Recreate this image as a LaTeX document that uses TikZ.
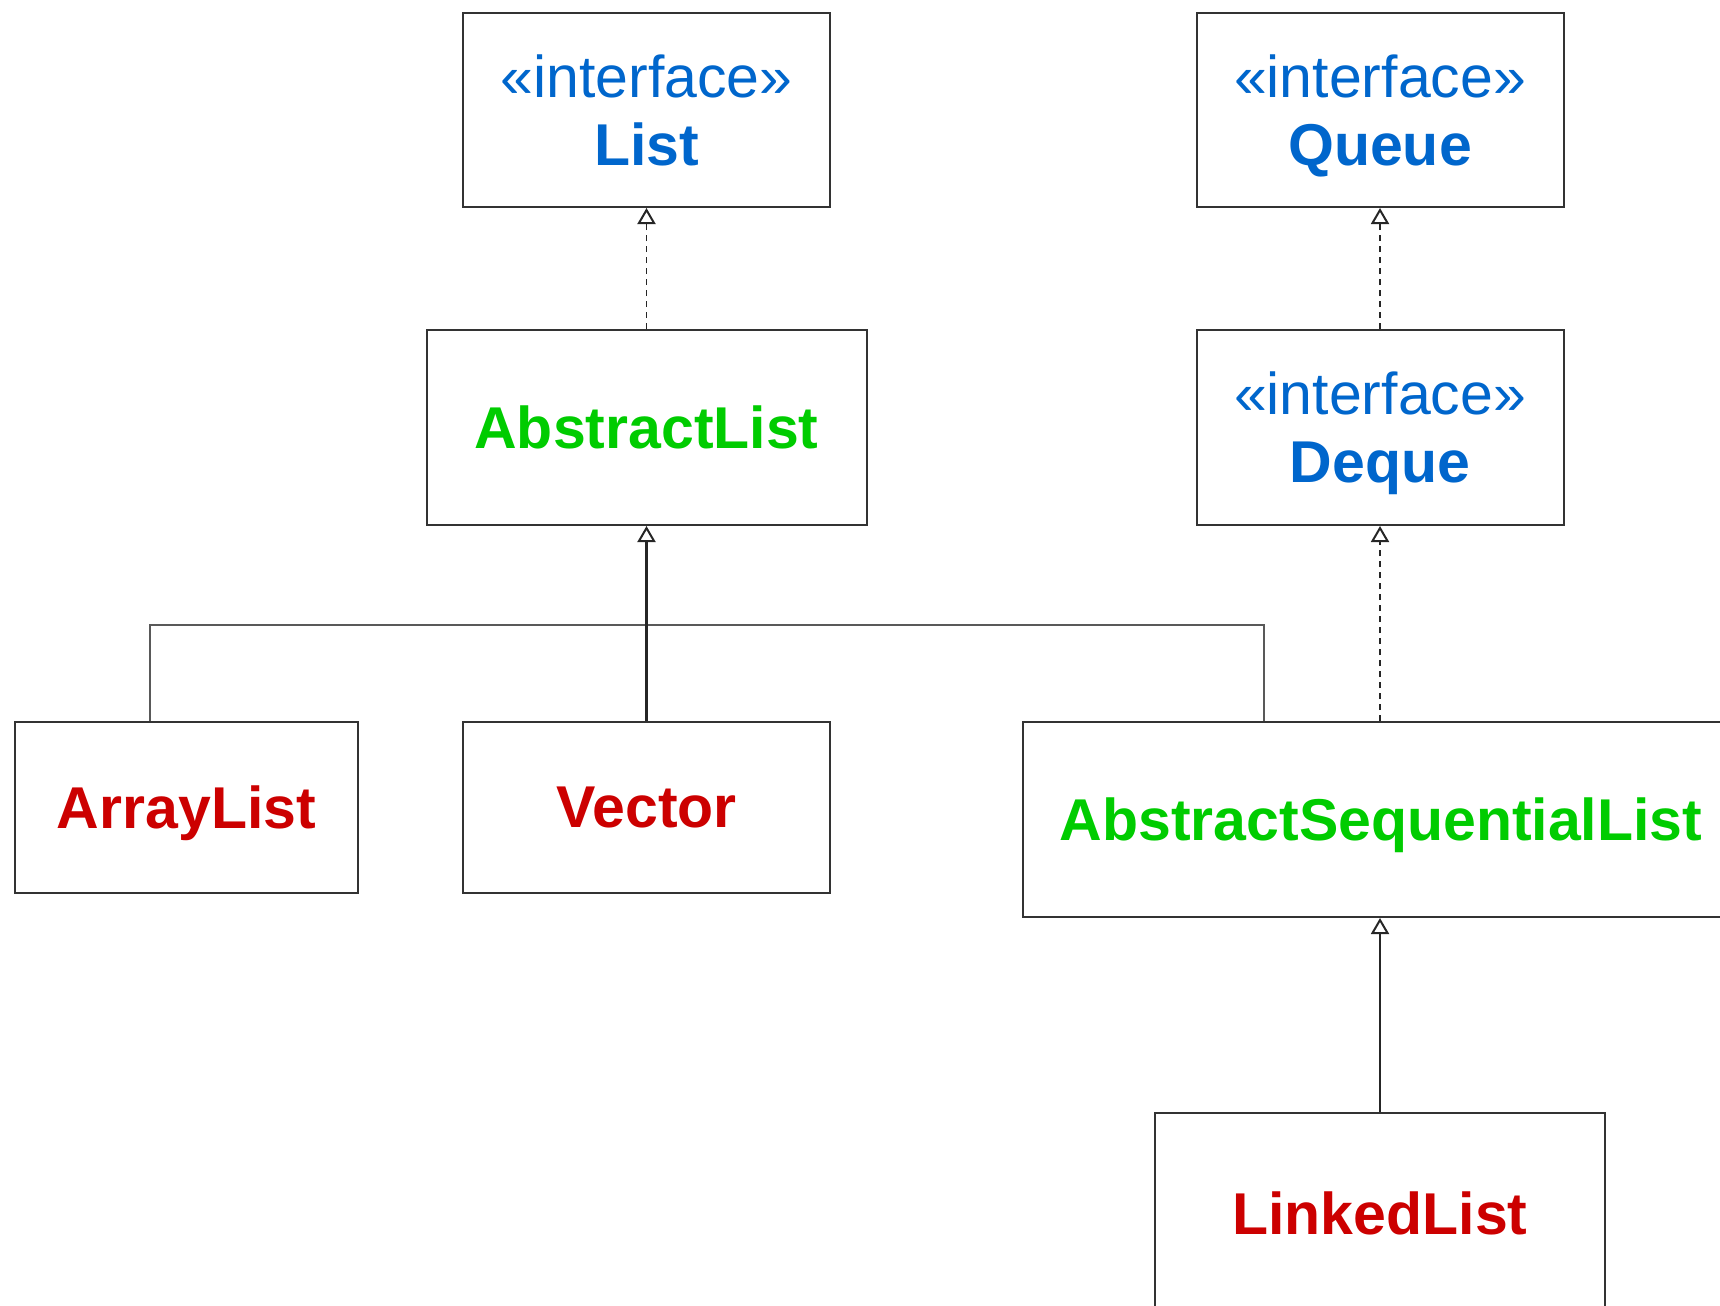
\documentclass[tikz,border=0pt]{standalone}
\usepackage{fontspec}
\setmainfont{Liberation Sans}
\usetikzlibrary{arrows.meta}
\definecolor{ifaceblue}{RGB}{0,102,204}
\definecolor{absgreen}{RGB}{0,204,0}
\definecolor{classred}{RGB}{204,0,0}
\tikzset{
	umlbox/.style = {draw = black!80, line width = 1pt, inner sep = 0pt, text depth = 0pt,
		align = center, font = \fontsize{29.5}{34}\selectfont},
	iface/.style = {umlbox, text = ifaceblue, minimum width = 183.5pt, minimum height = 97pt},
	abstr/.style = {umlbox, text = absgreen, font = \fontsize{29.5}{34}\selectfont\bfseries},
	concrete/.style = {umlbox, text = classred, font = \fontsize{29.5}{34}\selectfont\bfseries},
	realize/.style = {draw = black!85, line width = 0.9pt, dash pattern = on 3pt off 2.5pt,
		-{Triangle[open, width = 9pt, length = 8pt, line width = 1pt]}},
	inherit/.style = {draw = black!85, line width = 1.1pt,
		-{Triangle[open, width = 9pt, length = 8pt, line width = 1pt]}},
	bus/.style = {draw = black!65, line width = 1.1pt}
}
\begin{document}
		\begin{tikzpicture}[x = 0.5pt, y = -0.5pt]
			\useasboundingbox (0,0) rectangle (1720,1306);
			\clip (0,0) rectangle (1720,1306);
			% interfaces
			\node [iface] (List) at (646.5,110) {«interface»\\\textbf{List}};
			\node [iface] (Queue) at (1380,110) {«interface»\\\textbf{Queue}};
			\node [iface, minimum height = 97.5pt] (Deque) at (1380,427.5) {«interface»\\\textbf{Deque}};
			% abstract classes
			\node [abstr, minimum width = 220pt, minimum height = 97.5pt] (AbstractList) at (646.5,427.5) {AbstractList};
			\node [abstr, minimum width = 358pt, minimum height = 97.5pt] (AbstractSeqList) at (1381,819.5) {AbstractSequentialList};
			% concrete classes
			\node [concrete, minimum width = 171.5pt, minimum height = 85.5pt] (ArrayList) at (186.5,807.5) {ArrayList};
			\node [concrete, minimum width = 183.5pt, minimum height = 85.5pt] (Vector) at (646.5,807.5) {Vector};
			\node [concrete, minimum width = 225pt, minimum height = 100pt] (LinkedList) at (1380,1213) {LinkedList};
			% realization
			\draw [realize] (AbstractList.north) -- (List.south);
			\draw [realize] (Deque.north) -- (Queue.south);
			\draw [realize] (AbstractSeqList.north -| Deque.south) -- (Deque.south);
			% inheritance
			\coordinate (busL) at (150,625);
			\coordinate (busR) at (1264,625);
			\draw [bus] (ArrayList.north -| busL) -- (busL) -- (busR) -- (AbstractSeqList.north -| busR);
			\draw [inherit] (Vector.north) -- (AbstractList.south);
			\draw [inherit] (LinkedList.north) -- (LinkedList.north |- AbstractSeqList.south);
		\end{tikzpicture}
\end{document}
